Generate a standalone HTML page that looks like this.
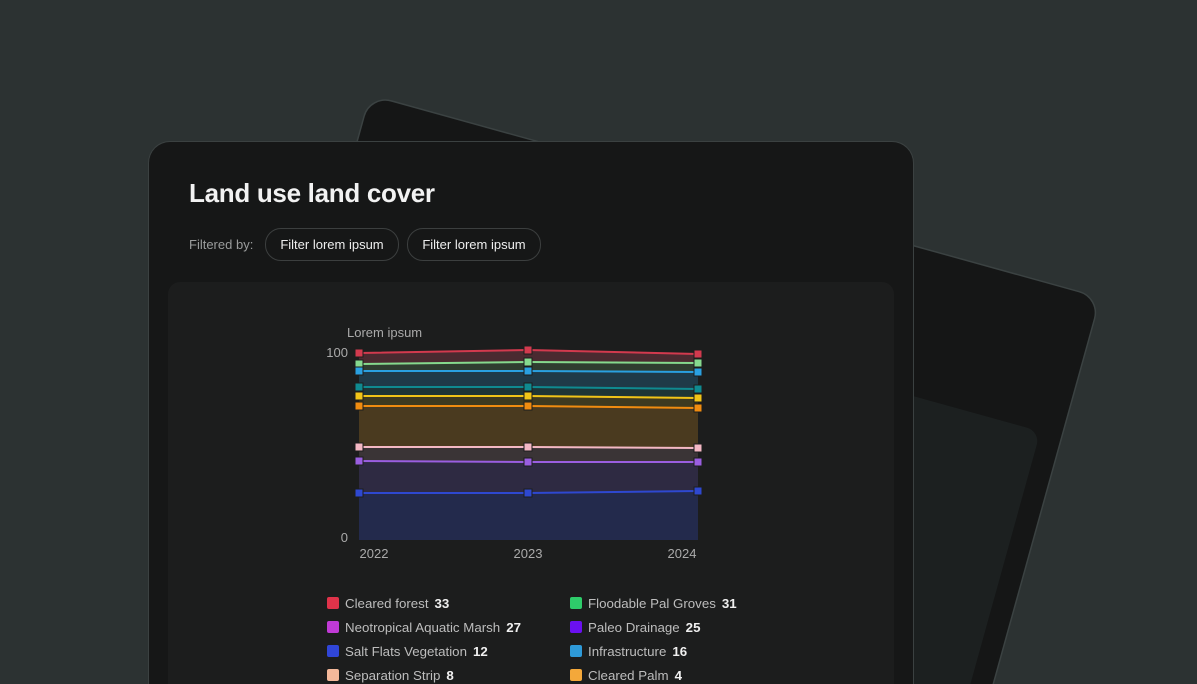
<!DOCTYPE html>
<html style="overflow:hidden;height:684px"><head><style>
body{margin:0;width:1197px;height:684px;overflow:hidden;background:#2c3232;font-family:"Liberation Sans",sans-serif;position:relative}
.abs{position:absolute}
.card{left:148px;top:141px;width:766px;height:543px;background:#161717;border:1px solid #3b4141;border-bottom:none;border-radius:22px 22px 0 0;box-sizing:border-box}
.title{left:189px;top:178px;font-size:26px;font-weight:bold;color:#f2f2f2;letter-spacing:-0.3px}
.fb{left:189px;top:237px;font-size:13px;color:#9a9c9c}
.pill{top:228px;height:31px;border:1px solid #3c3f3f;border-radius:16px;color:#eee;font-size:13px;line-height:31px;text-align:center}
.panel{left:168px;top:282px;width:726px;height:402px;background:#1c1d1d;border-radius:12px 12px 0 0}
.lg{font-size:13.3px;color:#bdbdbd;line-height:15px}
.lg b{color:#f0f0f0;margin-left:6px}
.sq{width:12px;height:12px;border-radius:2px}
</style></head><body>
<svg class="abs" style="left:0;top:0" width="1197" height="684">
<g transform="rotate(15.5 370 95)">
<rect x="370" y="95" width="758" height="900" rx="22" fill="#151616" stroke="#3b4242" stroke-width="1.5"/>
<rect x="392" y="240" width="714" height="700" rx="14" fill="#1c2020"/>
</g>
</svg>
<div class="abs card"></div>
<div class="abs title">Land use land cover</div>
<div class="abs fb">Filtered by:</div>
<div class="abs pill" style="left:265px;width:132px">Filter lorem ipsum</div>
<div class="abs pill" style="left:407px;width:132px">Filter lorem ipsum</div>
<div class="abs panel"></div>
<svg class="abs" style="left:0;top:0" width="1197" height="684" font-family="Liberation Sans, sans-serif">
<text x="347" y="337" font-size="13" fill="#aaa">Lorem ipsum</text>
<text x="348" y="357" font-size="13" fill="#aaa" text-anchor="end">100</text>
<text x="348" y="542" font-size="13" fill="#aaa" text-anchor="end">0</text>
<text x="374" y="558" font-size="13" fill="#aaa" text-anchor="middle">2022</text>
<text x="528" y="558" font-size="13" fill="#aaa" text-anchor="middle">2023</text>
<text x="682" y="558" font-size="13" fill="#aaa" text-anchor="middle">2024</text>
<polygon points="359,353 528,350 698,354 698,364 528,362 359,364" fill="#4a2a30"/>
<polygon points="359,364 528,362 698,363 698,372 528,371 359,371" fill="#2f3d30"/>
<polygon points="359,371 528,371 698,372 698,389 528,387 359,387" fill="#1f3a48"/>
<polygon points="359,387 528,387 698,389 698,398 528,396 359,396" fill="#1e3536"/>
<polygon points="359,396 528,396 698,398 698,408 528,406 359,406" fill="#3e3a20"/>
<polygon points="359,406 528,406 698,408 698,448 528,447 359,447" fill="#4a3a1f"/>
<polygon points="359,447 528,447 698,448 698,462 528,462 359,461" fill="#3a3436"/>
<polygon points="359,461 528,462 698,462 698,491 528,493 359,493" fill="#2e2a42"/>
<polygon points="359,493 528,493 698,491 698,540 359,540" fill="#232a4c"/>
<g stroke-width="2" fill="none">
<polyline points="359,353 528,350 698,354" stroke="#d23a4e"/>
<polyline points="359,364 528,362 698,363" stroke="#86d98e"/>
<polyline points="359,371 528,371 698,372" stroke="#2aa0e0"/>
<polyline points="359,387 528,387 698,389" stroke="#0f8a90"/>
<polyline points="359,396 528,396 698,398" stroke="#f2c418"/>
<polyline points="359,406 528,406 698,408" stroke="#f08c10"/>
<polyline points="359,447 528,447 698,448" stroke="#f4b8c4"/>
<polyline points="359,461 528,462 698,462" stroke="#9a5ee0"/>
<polyline points="359,493 528,493 698,491" stroke="#2e48d0"/>
</g>
<g stroke="#1c1d1d" stroke-width="1">
<g fill="#d23a4e"><rect x="355" y="349" width="8" height="8"/><rect x="524" y="346" width="8" height="8"/><rect x="694" y="350" width="8" height="8"/></g>
<g fill="#86d98e"><rect x="355" y="360" width="8" height="8"/><rect x="524" y="358" width="8" height="8"/><rect x="694" y="359" width="8" height="8"/></g>
<g fill="#2aa0e0"><rect x="355" y="367" width="8" height="8"/><rect x="524" y="367" width="8" height="8"/><rect x="694" y="368" width="8" height="8"/></g>
<g fill="#0f8a90"><rect x="355" y="383" width="8" height="8"/><rect x="524" y="383" width="8" height="8"/><rect x="694" y="385" width="8" height="8"/></g>
<g fill="#f2c418"><rect x="355" y="392" width="8" height="8"/><rect x="524" y="392" width="8" height="8"/><rect x="694" y="394" width="8" height="8"/></g>
<g fill="#f08c10"><rect x="355" y="402" width="8" height="8"/><rect x="524" y="402" width="8" height="8"/><rect x="694" y="404" width="8" height="8"/></g>
<g fill="#f4b8c4"><rect x="355" y="443" width="8" height="8"/><rect x="524" y="443" width="8" height="8"/><rect x="694" y="444" width="8" height="8"/></g>
<g fill="#9a5ee0"><rect x="355" y="457" width="8" height="8"/><rect x="524" y="458" width="8" height="8"/><rect x="694" y="458" width="8" height="8"/></g>
<g fill="#2e48d0"><rect x="355" y="489" width="8" height="8"/><rect x="524" y="489" width="8" height="8"/><rect x="694" y="487" width="8" height="8"/></g>
</g>
</svg>
<div class="abs sq" style="left:327px;top:597px;background:#e0334a"></div><div class="abs lg" style="left:345px;top:596px">Cleared forest<b>33</b></div>
<div class="abs sq" style="left:570px;top:597px;background:#2ecc6a"></div><div class="abs lg" style="left:588px;top:596px">Floodable Pal Groves<b>31</b></div>
<div class="abs sq" style="left:327px;top:621px;background:#c03ad6"></div><div class="abs lg" style="left:345px;top:620px">Neotropical Aquatic Marsh<b>27</b></div>
<div class="abs sq" style="left:570px;top:621px;background:#6a10f0"></div><div class="abs lg" style="left:588px;top:620px">Paleo Drainage<b>25</b></div>
<div class="abs sq" style="left:327px;top:645px;background:#3046d8"></div><div class="abs lg" style="left:345px;top:644px">Salt Flats Vegetation<b>12</b></div>
<div class="abs sq" style="left:570px;top:645px;background:#2e9ad8"></div><div class="abs lg" style="left:588px;top:644px">Infrastructure<b>16</b></div>
<div class="abs sq" style="left:327px;top:669px;background:#f4b89a"></div><div class="abs lg" style="left:345px;top:668px">Separation Strip<b>8</b></div>
<div class="abs sq" style="left:570px;top:669px;background:#f4a83a"></div><div class="abs lg" style="left:588px;top:668px">Cleared Palm<b>4</b></div>
</body></html>
